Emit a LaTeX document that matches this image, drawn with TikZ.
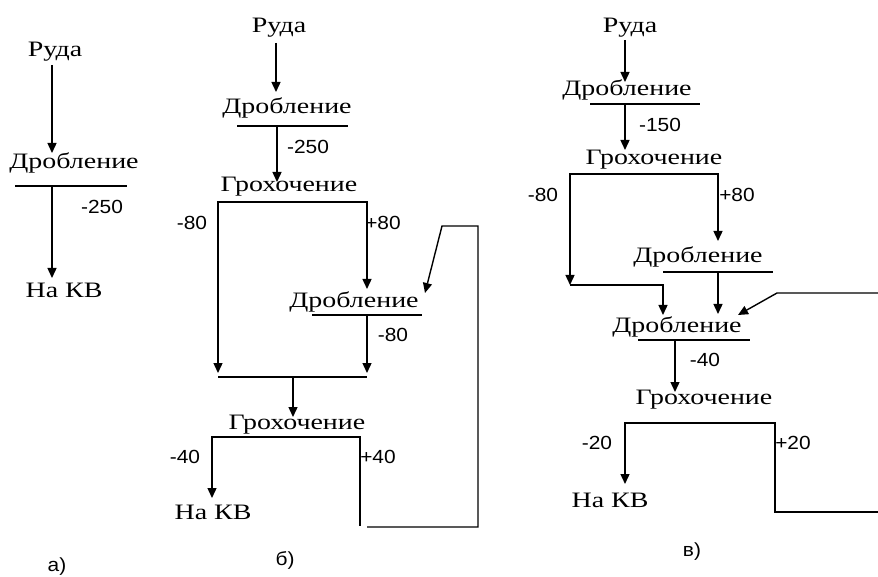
\documentclass[tikz,border=0pt]{standalone}
\usepackage{fontspec}
\usetikzlibrary{arrows.meta}
\newfontfamily\srf[FakeStretch=1.27]{Liberation Serif}
\newfontfamily\sns[FakeStretch=1.1]{Liberation Sans}
\begin{document}
\begin{tikzpicture}[x=1pt,y=-1pt,line width=1.4pt,
  lbl/.style={font=\srf\fontsize{22}{22}\selectfont,inner sep=0pt},
  num/.style={font=\sns\fontsize{19}{19}\selectfont,inner sep=0pt},
  arr/.style={-{Triangle[width=9pt,length=10pt]}}]
\useasboundingbox (0,0) rectangle (878,577);
% ---------- panel a ----------
\node[lbl] (aR) at (55,52) {Руда};
\node[lbl] (aD) at (74,163) {Дробление};
\node[lbl] (aK) at (64,290) {На КВ};
\node[num] (aN) at (102,207) {-250};
\node[num] (aL) at (57,567) {а)};
\coordinate (a1) at (52,65);
\coordinate (a2) at (52,153);
\coordinate (aU1) at (15,186);
\coordinate (aU2) at (127,186);
\coordinate (a3) at (52,186);
\coordinate (a4) at (52,278);
\draw[arr] (a1) -- (a2);
\draw (aU1) -- (aU2);
\draw[arr] (a3) -- (a4);
% ---------- panel b ----------
\node[lbl] (bR) at (279,28) {Руда};
\node[lbl] (bD1) at (287,108) {Дробление};
\node[lbl] (bG1) at (289,187) {Грохочение};
\node[lbl] (bD2) at (354,302) {Дробление};
\node[lbl] (bG2) at (297,425) {Грохочение};
\node[lbl] (bK) at (213,512) {На КВ};
\node[num] (bn1) at (308,147) {-250};
\node[num] (bn2) at (192,223) {-80};
\node[num] (bn3) at (383,223) {+80};
\node[num] (bn4) at (393,335) {-80};
\node[num] (bn5) at (185,457) {-40};
\node[num] (bn6) at (378,457) {+40};
\node[num] (bL) at (285,560) {б)};
\coordinate (b1) at (276,43);
\coordinate (b2) at (276,92);
\draw[arr] (b1) -- (b2);
\draw (237,126) coordinate (bU1) -- (348,126) coordinate (bU2);
\coordinate (b3) at (277,126);
\coordinate (b4) at (277,182);
\draw[arr] (b3) -- (b4);
\coordinate (bL1) at (218,202);
\coordinate (bR1) at (367,202);
\coordinate (bL2) at (218,373);
\coordinate (bR2) at (367,289);
\draw[arr] (bR1) -- (bL1) -- (bL2);
\draw[arr] (bL1) -- (bR1) -- (bR2);
\draw (312,315) coordinate (bU3) -- (422,315) coordinate (bU4);
\coordinate (b5) at (367,315);
\coordinate (b6) at (367,373);
\draw[arr] (b5) -- (b6);
\coordinate (bM1) at (218,377);
\coordinate (bM2) at (367,377);
\draw (bM1) -- (bM2);
\coordinate (b7) at (293,377);
\coordinate (b8) at (293,417);
\draw[arr] (b7) -- (b8);
\coordinate (bS1) at (212,437);
\coordinate (bS2) at (360,437);
\coordinate (bS3) at (212,498);
\coordinate (bS4) at (360,526);
\draw[arr] (bS2) -- (bS1) -- (bS3);
\draw (bS1) -- (bS2) -- (bS4);
\coordinate (bP1) at (367,527);
\coordinate (bP2) at (478,527);
\coordinate (bP3) at (478,226);
\coordinate (bP4) at (442,226);
\coordinate (bP5) at (425,293);
\draw[arr] (bP1) -- (bP2) -- (bP3) -- (bP4) -- (bP5);
% ---------- panel c ----------
\node[lbl] (cR) at (630,28) {Руда};
\node[lbl] (cD1) at (627,90) {Дробление};
\node[lbl] (cG1) at (654,160) {Грохочение};
\node[lbl] (cD2) at (698,257) {Дробление};
\node[lbl] (cD3) at (677,327) {Дробление};
\node[lbl] (cG2) at (704,400) {Грохочение};
\node[lbl] (cK) at (610,500) {На КВ};
\node[num] (cn1) at (660,125) {-150};
\node[num] (cn2) at (543,195) {-80};
\node[num] (cn3) at (737,195) {+80};
\node[num] (cn4) at (705,360) {-40};
\node[num] (cn5) at (597,443) {-20};
\node[num] (cn6) at (793,443) {+20};
\node[num] (cL) at (692,552) {в)};
\coordinate (c1) at (625,40);
\coordinate (c2) at (625,82);
\draw[arr] (c1) -- (c2);
\draw (590,104) coordinate (cU1) -- (700,104) coordinate (cU2);
\coordinate (c3) at (625,104);
\coordinate (c4) at (625,150);
\draw[arr] (c3) -- (c4);
\coordinate (cL1) at (570,174);
\coordinate (cR1) at (718,174);
\coordinate (cL2) at (570,285);
\coordinate (cR2) at (718,241);
\draw[arr] (cR1) -- (cL1) -- (cL2);
\draw[arr] (cL1) -- (cR1) -- (cR2);
\draw (663,272) coordinate (cU3) -- (773,272) coordinate (cU4);
\coordinate (c5) at (718,272);
\coordinate (c6) at (718,314);
\draw[arr] (c5) -- (c6);
\coordinate (c7) at (663,285);
\coordinate (c8) at (663,315);
\draw[arr] (cL2) -- (c7) -- (c8);
\coordinate (cP1) at (878,293);
\coordinate (cP2) at (777,293);
\coordinate (cP3) at (738,315);
\draw[arr] (cP1) -- (cP2) -- (cP3);
\draw (638,340) coordinate (cU5) -- (750,340) coordinate (cU6);
\coordinate (c9) at (675,340);
\coordinate (c10) at (675,392);
\draw[arr] (c9) -- (c10);
\coordinate (cS1) at (625,423);
\coordinate (cS2) at (775,423);
\coordinate (cS3) at (625,484);
\coordinate (cS4) at (775,512);
\coordinate (cS5) at (878,512);
\draw[arr] (cS2) -- (cS1) -- (cS3);
\draw (cS1) -- (cS2) -- (cS4) -- (cS5);
\end{tikzpicture}
\end{document}
